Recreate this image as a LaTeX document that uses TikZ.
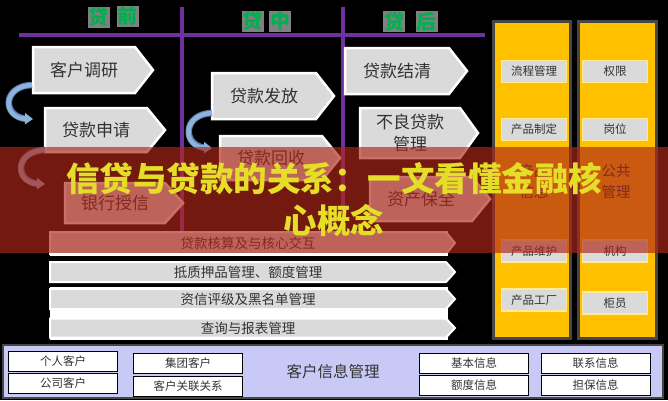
\documentclass[tikz,border=0pt]{standalone}
\usepackage{fontspec}
\setmainfont{Noto Sans CJK SC}
\usetikzlibrary{arrows.meta}
\definecolor{purp}{RGB}{112,48,160}
\definecolor{boxg}{RGB}{218,218,218}
\definecolor{txtd}{RGB}{50,50,50}
\definecolor{gold}{RGB}{255,192,0}
\definecolor{colb}{RGB}{70,70,70}
\definecolor{lav}{RGB}{201,201,246}
\definecolor{hgreen}{RGB}{0,176,80}
\definecolor{hgray}{RGB}{128,128,128}
\definecolor{bannerc}{RGB}{175,38,23}
\definecolor{ttl}{RGB}{228,222,40}
\definecolor{arrb}{RGB}{141,179,221}
\definecolor{arrd}{RGB}{90,125,170}
\definecolor{ybord}{RGB}{255,235,150}
\tikzset{
  pentbox/.style={fill=boxg, draw=white, line width=2.5pt, line join=miter},
  barbox/.style={fill=boxg, draw=white, line width=2pt, line join=miter},
  penttxt/.style={text=txtd, font=\fontsize{17}{22}\selectfont, align=center, inner sep=0pt},
  bartxt/.style={text=txtd, font=\fontsize{13.5}{16}\selectfont, inner sep=0pt},
  hdr/.style={fill=hgray, text=hgreen, font=\bfseries\fontsize{20}{21}\selectfont, inner sep=0pt, minimum width=22pt, minimum height=21pt},
  ybox/.style={fill=boxg, draw=ybord, line width=1.5pt, text=txtd, font=\fontsize{11.5}{13}\selectfont, minimum width=65pt, minimum height=22pt, inner sep=0pt},
  ytxt/.style={text=txtd, font=\fontsize{14.5}{21}\selectfont, align=center, inner sep=0pt},
  wbox/.style={fill=white, draw=black, line width=0.8pt, text=txtd, font=\fontsize{11.5}{13}\selectfont, minimum width=109pt, minimum height=20pt, inner sep=0pt},
  carrow/.style={draw=arrb, line width=4.5pt, -{Triangle[length=8pt,width=11pt]}},
  carrowbg/.style={draw=arrd, line width=6.5pt},
  colbox/.style={fill=gold, draw=colb, line width=3pt},
}
\newcommand\pent[8]{%
  \draw[#1box] ({#3-#5/2},{#4-#6/2}) -- ({#3+#5/2},{#4-#6/2}) -- ({#3+#5/2+#7},#4) -- ({#3+#5/2},{#4+#6/2}) -- ({#3-#5/2},{#4+#6/2}) -- cycle;
  \node[#1txt] (#2) at (#3,#4) {#8};}
\begin{document}
\begin{tikzpicture}[x=1pt,y=-1pt]
\useasboundingbox (0,0) rectangle (668,400);
\fill[black] (0,0) rectangle (668,400);
% purple frame lines
\draw[purp, line width=4pt] (19,35) -- (485,35);
\draw[purp, line width=4pt] (182,7) -- (182,232);
\draw[purp, line width=4pt] (343,7) -- (343,232);
% headers
\node[hdr] (h1a) at (98.5,17) {贷};
\node[hdr] (h1b) at (127.5,16) {前};
\node[hdr] (h2a) at (252.5,21) {贷};
\node[hdr] (h2b) at (280,21) {中};
\node[hdr] (h3a) at (394,21.5) {贷};
\node[hdr] (h3b) at (426.5,21.5) {后};
% step boxes
\pent{pent}{kh}{84}{70}{102}{46}{18}{客户调研}
\pent{pent}{sq}{96}{130}{102}{44}{18}{贷款申请}
\pent{pent}{sx}{115}{203}{100}{40}{18}{银行授信}
\pent{pent}{ff}{264}{96}{104}{46}{18}{贷款发放}
\pent{pent}{hs}{271}{158}{102}{44}{18}{贷款回收}
\pent{pent}{jq}{397}{71}{104}{46}{18}{贷款结清}
\pent{pent}{bl}{410}{133}{100}{50}{18}{不良贷款\\管理}
\pent{pent}{bq}{421}{199}{102}{44}{18}{资产保全}
% curved arrows
\coordinate (a1s) at (32,85);
\coordinate (a1e) at (33,119);
\coordinate (a2s) at (212,113);
\coordinate (a2e) at (212,148);
\coordinate (a3s) at (45,150);
\coordinate (a3e) at (45,184);
\draw[carrowbg] (a1s) .. controls (2,86) and (2,117) .. ([xshift=-6pt]a1e);
\draw[carrow] (a1s) .. controls (2,86) and (2,118) .. (a1e);
\draw[carrowbg] (a2s) .. controls (182,114) and (182,146) .. ([xshift=-6pt]a2e);
\draw[carrow] (a2s) .. controls (182,114) and (182,147) .. (a2e);
\draw[carrowbg] (a3s) .. controls (14,151) and (14,182) .. ([xshift=-6pt]a3e);
\draw[carrow] (a3s) .. controls (14,151) and (14,183) .. (a3e);
% horizontal bars
\fill[white] (50,231) rectangle (448,256);
\fill[white] (50,287) rectangle (448,340);
\pent{bar}{b1}{248}{243}{396}{22}{9}{贷款核算及与核心交互}
\pent{bar}{b2}{248}{272}{396}{20}{9}{抵质押品管理、额度管理}
\pent{bar}{b3}{248}{299}{396}{20}{9}{资信评级及黑名单管理}
\pent{bar}{b4}{248}{328}{396}{19}{9}{查询与报表管理}
% yellow columns
\draw[colbox] (493,21) rectangle (570,338);
\draw[colbox] (578,21) rectangle (656,338);
\node[ybox] (lc) at (534,71.5) {流程管理};
\node[ybox] (zd) at (534,129.5) {产品制定};
\node[ytxt] (xx) at (534,181) {产品\\信息};
\node[ybox] (wh) at (534,251) {产品维护};
\node[ybox] (gc) at (534,300) {产品工厂};
\node[ybox] (qx) at (615,71.5) {权限};
\node[ybox] (gw) at (615,129.5) {岗位};
\node[ytxt] (gg) at (616,182) {公共\\管理};
\node[ybox] (jg) at (615,251) {机构};
\node[ybox] (gy) at (615,303) {柜员};
% bottom panel
\draw[fill=lav, draw=colb, line width=1.5pt] (3,345) rectangle (663,398);
\node[wbox] (gr) at (63,361.5) {个人客户};
\node[wbox] (gs) at (63,383) {公司客户};
\node[wbox] (jt) at (188,363) {集团客户};
\node[wbox] (gl) at (188,386) {客户关联关系};
\node[text=txtd, font=\fontsize{15.5}{18}\selectfont, inner sep=0pt] (kx) at (333,372) {客户信息管理};
\node[wbox] (jb) at (474,363) {基本信息};
\node[wbox] (ed) at (474,385.5) {额度信息};
\node[wbox] (lx) at (595.5,363) {联系信息};
\node[wbox] (db) at (595.5,385.5) {担保信息};
% banner
\fill[bannerc, opacity=0.66] (0,147) rectangle (668,253);
\node[text=ttl, font=\bfseries\fontsize{33.5}{42}\selectfont, align=center, inner sep=0pt] (title) at (334,200) {信贷与贷款的关系：一文看懂金融核\\心概念};
\end{tikzpicture}
\end{document}
